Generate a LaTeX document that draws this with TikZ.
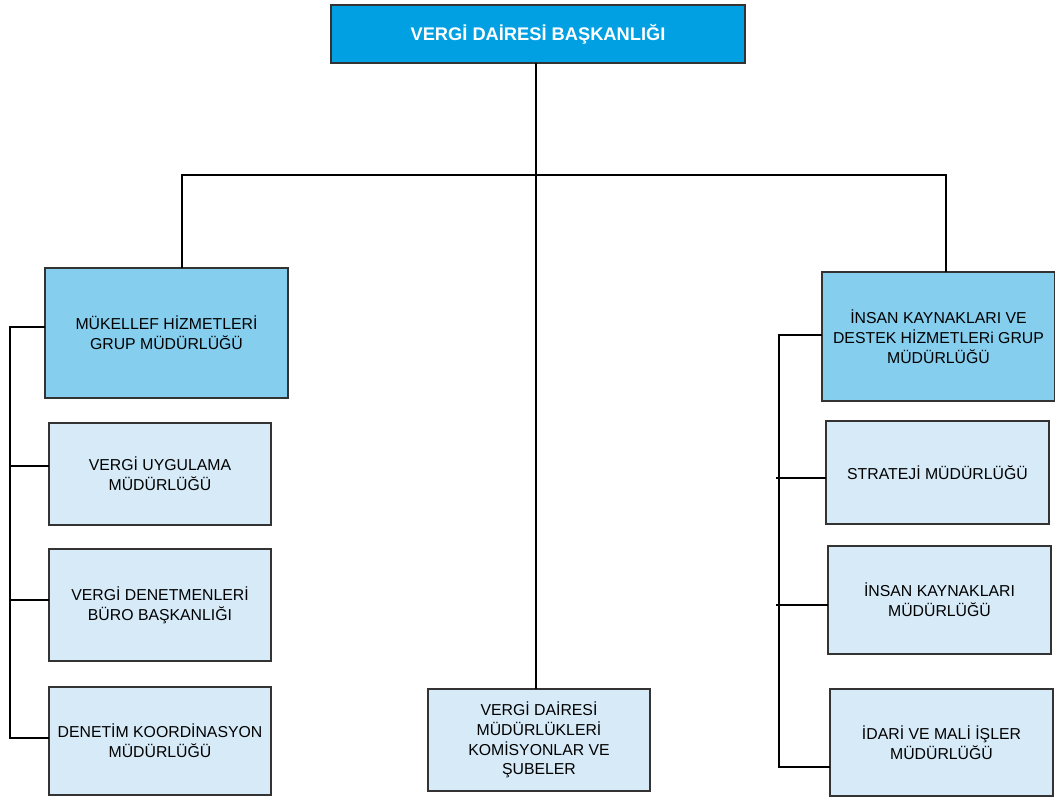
\documentclass[tikz,border=0pt]{standalone}
\usepackage{fontspec}
\setmainfont{Liberation Sans}
\usepackage{tikz}
\usetikzlibrary{calc, positioning}

\definecolor{topblue}{RGB}{0,160,227}
\definecolor{grpblue}{RGB}{133,206,238}
\definecolor{boxblue}{RGB}{214,234,248}

\begin{document}
\begin{tikzpicture}[x=0.02cm,y=-0.02cm,-,
                    line width=0.6pt,
                    unit node/.style={rectangle,draw=black!80,line width=0.8pt,fill=boxblue,
                                      align=center,inner sep=0pt,outer sep=0pt,
                                      font=\fontsize{9}{11.3}\selectfont},
                    group node/.style={unit node,fill=grpblue},
                    head node/.style={unit node,fill=topblue,text=white,
                                      font=\fontsize{10.4}{12.5}\selectfont\bfseries}]

  \useasboundingbox (0,0) rectangle (1055,796);

  \node[head node,minimum width=8.28cm,minimum height=1.16cm] (top) at (538,34) {VERG\.I DA\.IRES\.I BA\c{S}KANLI\u{G}I};

  \node[group node,minimum width=4.86cm,minimum height=2.6cm] (mgrp) at (166.5,333) {M\"UKELLEF H\.IZMETLER\.I\\GRUP M\"UD\"URL\"U\u{G}\"U};
  \node[unit node,minimum width=4.44cm,minimum height=2.04cm] (vu) at (160,474) {VERG\.I UYGULAMA\\M\"UD\"URL\"U\u{G}\"U};
  \node[unit node,minimum width=4.44cm,minimum height=2.24cm] (vd) at (160,605) {VERG\.I DENETMENLER\.I\\B\"URO BA\c{S}KANLI\u{G}I};
  \node[unit node,minimum width=4.44cm,minimum height=2.16cm] (dk) at (160,741) {DENET\.IM KOORD\.INASYON\\M\"UD\"URL\"U\u{G}\"U};

  \node[unit node,minimum width=4.44cm,minimum height=2.04cm] (cen) at (539,740) {VERG\.I DA\.IRES\.I\\M\"UD\"URL\"UKLER\.I\\KOM\.ISYONLAR VE\\\c{S}UBELER};

  \node[group node,minimum width=4.66cm,minimum height=2.58cm] (igrp) at (938.5,336.5) {\.INSAN KAYNAKLARI VE\\DESTEK H\.IZMETLERi GRUP\\M\"UD\"URL\"U\u{G}\"U};
  \node[unit node,minimum width=4.46cm,minimum height=2.06cm] (sm) at (937.5,472.5) {STRATEJ\.I M\"UD\"URL\"U\u{G}\"U};
  \node[unit node,minimum width=4.46cm,minimum height=2.16cm] (ik) at (939.5,600) {\.INSAN KAYNAKLARI\\M\"UD\"URL\"U\u{G}\"U};
  \node[unit node,minimum width=4.46cm,minimum height=2.14cm] (im) at (941.5,742.5) {\.IDAR\.I VE MAL\.I \.I\c{S}LER\\M\"UD\"URL\"U\u{G}\"U};

  % main branches
  \coordinate (j) at (536,175);
  \draw (top.south -| j) -- (j);
  \draw ([xshift=0.31cm]mgrp.north) |- (j) -| ([xshift=0.15cm]igrp.north);
  \draw (j) -- (cen.north -| j);

  % left bus
  \coordinate (lt) at (10,327);
  \coordinate (lb) at (10,738);
  \draw (mgrp.west |- lt) -- (lt) -- (lb) -- (dk.west |- lb);
  \draw (lt |- 0,466) -- (vu.west |- 0,466);
  \draw (lt |- 0,600) -- (vd.west |- 0,600);

  % right bus
  \coordinate (rt) at (779,335);
  \coordinate (rb) at (779,767);
  \draw (igrp.west |- rt) -- (rt) -- (rb) -- (im.west |- rb);
  \draw ([xshift=-0.06cm]rt |- 0,478) -- (sm.west |- 0,478);
  \draw ([xshift=-0.06cm]rt |- 0,605) -- (ik.west |- 0,605);
\end{tikzpicture}
\end{document}
